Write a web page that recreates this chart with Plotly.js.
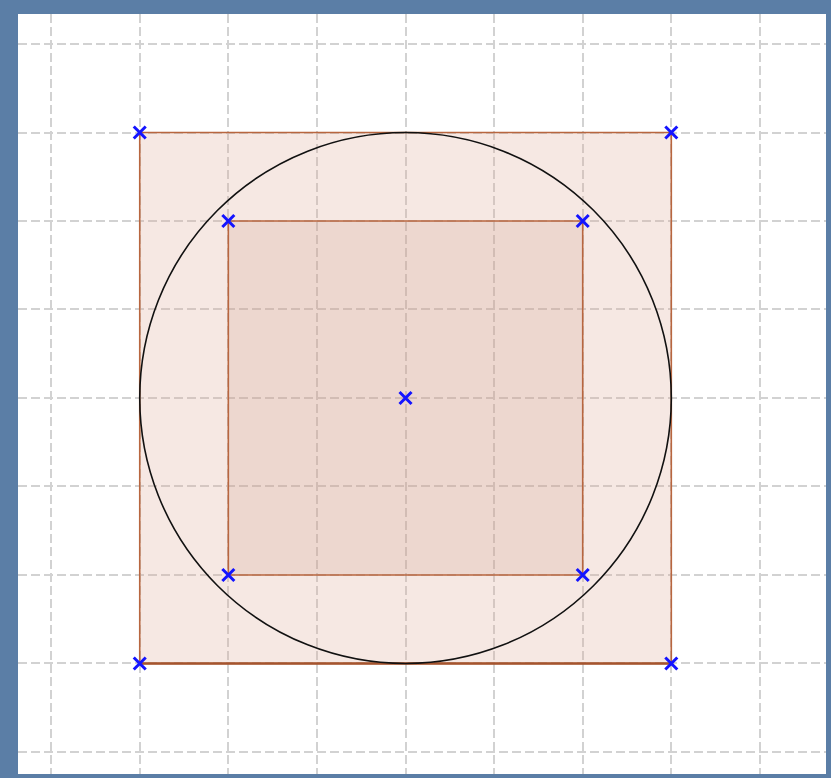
<!DOCTYPE html>
<html>
<head>
<meta charset="utf-8">
<script src="https://cdn.plot.ly/plotly-3.0.1.min.js"></script>
<style>html,body{margin:0;padding:0;background:#5b7ea6;}</style>
</head>
<body>
<div id="chart" style="width:831px;height:778px;"></div>
<script>
// Outer square corners
const outerX = [-3, 3, 3, -3];
const outerY = [3, 3, -3, -3];
// Inner square corners
const innerX = [-2, 2, 2, -2];
const innerY = [2, 2, -2, -2];
// Circle centre and radius
const centerX = [0];
const centerY = [0];
const circleRadius = 3;

const pointsX = outerX.concat(innerX, centerX);
const pointsY = outerY.concat(innerY, centerY);

function closed(a){ return a.concat([a[0]]); }

const traces = [
  {x: closed(outerX), y: closed(outerY), type:'scatter', mode:'lines', fill:'toself',
   fillcolor:'rgba(220,170,150,0.27)', line:{color:'#b8663f', width:1.6}, hoverinfo:'skip'},
  {x: [outerX[2], outerX[3]], y: [outerY[2], outerY[3]], type:'scatter', mode:'lines',
   line:{color:'#a5542e', width:2.6}, hoverinfo:'skip'},
  {x: closed(innerX), y: closed(innerY), type:'scatter', mode:'lines', fill:'toself',
   fillcolor:'rgba(200,140,115,0.18)', line:{color:'#b8663f', width:1.6}, hoverinfo:'skip'},
  {x: pointsX, y: pointsY, type:'scatter', mode:'markers',
   marker:{symbol:'x-thin', size:12, line:{color:'#1414ff', width:3}, color:'#1414ff'}}
];

const layout = {
  width: 831, height: 778,
  margin: {l:18, r:5, t:14, b:4, pad:0},
  paper_bgcolor: '#5b7ea6',
  plot_bgcolor: '#ffffff',
  showlegend: false,
  xaxis: {range:[-4.374, 4.746], dtick:1, tick0:0, showticklabels:false, ticks:'',
          zeroline:false, showline:false, gridcolor:'#d2d2d2', gridwidth:2, griddash:'9px,4px', fixedrange:true},
  yaxis: {range:[-4.249, 4.339], dtick:1, tick0:0, showticklabels:false, ticks:'',
          zeroline:false, showline:false, gridcolor:'#d2d2d2', gridwidth:2, griddash:'9px,4px', fixedrange:true},
  shapes: [
    {type:'circle', xref:'x', yref:'y',
     x0: centerX[0]-circleRadius, x1: centerX[0]+circleRadius,
     y0: centerY[0]-circleRadius, y1: centerY[0]+circleRadius,
     line:{color:'#111111', width:1.6}, fillcolor:'rgba(0,0,0,0)', layer:'above'}
  ]
};

Plotly.newPlot('chart', traces, layout, {displayModeBar:false, staticPlot:true});
</script>
</body>
</html>
